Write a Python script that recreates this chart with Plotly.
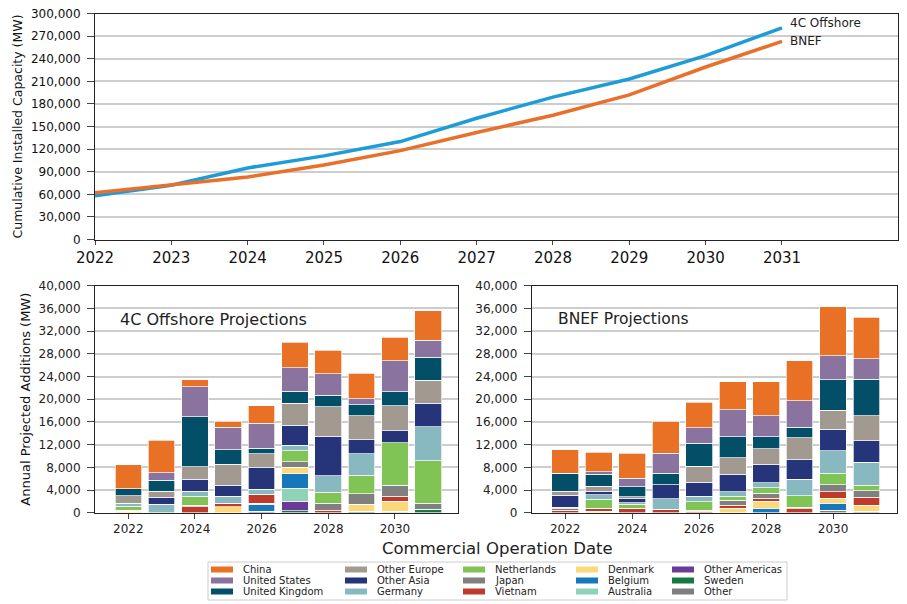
import plotly.graph_objects as go

# ---------------- data ----------------
years = [2022, 2023, 2024, 2025, 2026, 2027, 2028, 2029, 2030, 2031]

cum_4c = [58000, 72000, 95000, 111000, 130000, 161000, 189000, 213000, 244000, 281000]
cum_bnef = [62000, 72000, 83000, 99000, 118000, 142000, 165000, 192000, 229000, 263000]

countries = ["China", "United States", "United Kingdom", "Other Europe", "Other Asia",
             "Germany", "Netherlands", "Japan", "Vietnam", "Denmark",
             "Belgium", "Australia", "Other Americas", "Sweden", "Other"]

country_colors = ["#E87125", "#8B73A0", "#044F68", "#A29A90", "#26357A",
                  "#88B8C0", "#80C455", "#808080", "#C03A2B", "#FBD97B",
                  "#1677BD", "#8FD3B6", "#6A3A98", "#147A3F", "#7E7E7E"]

fourc_china = [4240, 5760, 1170, 1060, 3110, 4470, 4120, 4470, 4120, 5230]
fourc_us = [0, 1240, 5300, 4000, 4410, 4180, 3820, 1120, 5470, 2940]
fourc_uk = [1230, 2000, 8820, 2520, 940, 2110, 2060, 1940, 2470, 4120]
fourc_other_europe = [1350, 1000, 2230, 3710, 2530, 3880, 5170, 4170, 4350, 4000]
fourc_other_asia = [0, 1230, 2120, 1880, 3710, 3530, 6940, 2470, 2120, 4120]
fourc_germany = [470, 1530, 820, 1290, 880, 940, 2940, 3770, 0, 6060]
fourc_netherlands = [710, 0, 1590, 0, 0, 1940, 1940, 3290, 7470, 7470]
fourc_japan = [0, 0, 290, 0, 0, 940, 1180, 1880, 1940, 1000]
fourc_vietnam = [250, 0, 1060, 590, 1640, 0, 470, 0, 940, 0]
fourc_denmark = [220, 0, 0, 1060, 180, 1180, 0, 1180, 1760, 0]
fourc_belgium = [0, 0, 0, 0, 1180, 2590, 0, 0, 0, 0]
fourc_australia = [0, 0, 0, 0, 0, 2230, 0, 0, 235, 0]
fourc_other_americas = [0, 0, 0, 0, 290, 1700, 0, 0, 0, 0]
fourc_sweden = [0, 0, 0, 0, 0, 350, 0, 290, 0, 650]
fourc_other = [0, 0, 0, 0, 0, 0, 0, 0, 0, 0]

bnef_china = [4110, 3410, 4410, 5640, 4460, 5000, 6000, 7110, 8640, 7290]
bnef_us = [0, 470, 1470, 3530, 2770, 4760, 3760, 4650, 4290, 3590]
bnef_uk = [3180, 2060, 1770, 2000, 4060, 3650, 2120, 1820, 5350, 6410]
bnef_other_europe = [700, 940, 350, 0, 2760, 2880, 2700, 3940, 3350, 4470]
bnef_other_asia = [2060, 580, 710, 2470, 2470, 3120, 3240, 3410, 3760, 3760]
bnef_germany = [300, 830, 290, 1820, 1000, 820, 880, 2880, 4000, 4060]
bnef_netherlands = [0, 1530, 710, 0, 1470, 650, 1000, 2060, 2000, 940]
bnef_japan = [230, 0, 0, 0, 230, 880, 820, 240, 1290, 1180]
bnef_vietnam = [470, 590, 760, 650, 240, 590, 590, 700, 1060, 1410]
bnef_denmark = [0, 235, 0, 0, 0, 760, 1240, 0, 940, 1060]
bnef_belgium = [0, 0, 0, 0, 0, 0, 760, 0, 1180, 0]
bnef_australia = [0, 0, 0, 0, 0, 0, 0, 0, 0, 0]
bnef_other_americas = [0, 0, 0, 0, 0, 0, 0, 0, 0, 0]
bnef_sweden = [0, 0, 0, 0, 0, 0, 0, 0, 0, 0]
bnef_other = [0, 0, 0, 0, 0, 0, 0, 0, 470, 235]

fourc_series = [fourc_china, fourc_us, fourc_uk, fourc_other_europe, fourc_other_asia,
                fourc_germany, fourc_netherlands, fourc_japan, fourc_vietnam, fourc_denmark,
                fourc_belgium, fourc_australia, fourc_other_americas, fourc_sweden, fourc_other]
bnef_series = [bnef_china, bnef_us, bnef_uk, bnef_other_europe, bnef_other_asia,
               bnef_germany, bnef_netherlands, bnef_japan, bnef_vietnam, bnef_denmark,
               bnef_belgium, bnef_australia, bnef_other_americas, bnef_sweden, bnef_other]

# ---------------- layout helpers ----------------
# the page body has an 8px default margin, so the figure is placed at (8, 8)
OFF = 8
W, H = 907 - OFF, 604 - OFF


def px(x):
    return (x - OFF) / W


def py(y):
    return 1 - (y - OFF) / H


FONT = "DejaVu Sans"

fig = go.Figure()

# top line chart
fig.add_trace(go.Scatter(x=years, y=cum_4c, mode="lines", name="4C Offshore",
                         line=dict(color="#1E9CD7", width=3.5), showlegend=False,
                         xaxis="x", yaxis="y"))
fig.add_trace(go.Scatter(x=years, y=cum_bnef, mode="lines", name="BNEF",
                         line=dict(color="#E8702A", width=3.5), showlegend=False,
                         xaxis="x", yaxis="y"))

# stacked bars (bottom of stack = last in legend)
for i in reversed(range(len(countries))):
    fig.add_trace(go.Bar(x=years, y=fourc_series[i], name=countries[i],
                         marker=dict(color=country_colors[i], line=dict(color="white", width=0.7)),
                         width=0.8, xaxis="x2", yaxis="y2", showlegend=False))
    fig.add_trace(go.Bar(x=years, y=bnef_series[i], name=countries[i],
                         marker=dict(color=country_colors[i], line=dict(color="white", width=0.7)),
                         width=0.8, xaxis="x3", yaxis="y3", showlegend=False))

grid = "#cdcdcd"
axline = "#222222"

bottom_y = dict(range=[0, 40000], dtick=4000, tickformat=",d", showgrid=True,
                gridcolor=grid, gridwidth=1.5, showline=True, mirror=True,
                linecolor=axline, linewidth=1, ticks="outside", ticklen=7,
                ticklabelstandoff=4, ticklabeloverflow="allow",
                tickfont=dict(family=FONT, size=12, color="#222"), zeroline=False,
                domain=[py(512.7), py(285.7)], automargin=False)
bottom_x = dict(range=[2021, 2031.9], tickvals=[2022, 2024, 2026, 2028, 2030],
                ticks="outside", ticklen=5, showline=True, mirror=True,
                linecolor=axline, linewidth=1, showgrid=False, zeroline=False,
                tickfont=dict(family=FONT, size=12, color="#222"), automargin=False)

fig.update_layout(
    width=W, height=H, margin=dict(l=0, r=0, t=0, b=0, autoexpand=False),
    paper_bgcolor="white", plot_bgcolor="white",
    barmode="stack",
    font=dict(family=FONT, color="#222"),
    xaxis=dict(domain=[px(95), px(898)], range=[2022, 2032.52], tickvals=years,
               ticks="outside", ticklen=4, showline=True, mirror=True,
               linecolor=axline, linewidth=1, showgrid=False, zeroline=False,
               tickfont=dict(family=FONT, size=15, color="#111"), anchor="y",
               automargin=False),
    yaxis=dict(domain=[py(239.5), py(13.5)], range=[0, 300000], dtick=30000, tickformat=",d",
               showgrid=True, gridcolor=grid, gridwidth=2, showline=True, mirror=True,
               linecolor=axline, linewidth=1, ticks="outside", ticklen=7, zeroline=False,
               ticklabelstandoff=4, ticklabeloverflow="allow",
               tickfont=dict(family=FONT, size=12, color="#111"), anchor="x",
               automargin=False,
               title=dict(text="Cumulative Installed Capacity (MW)",
                          font=dict(family=FONT, size=12.5, color="#111"), standoff=5)),
    xaxis2=dict(bottom_x, domain=[px(95), px(458.3)], anchor="y2"),
    yaxis2=dict(bottom_y, anchor="x2",
                title=dict(text="Annual Projected Additions (MW)",
                           font=dict(family=FONT, size=13, color="#111"), standoff=5)),
    xaxis3=dict(bottom_x, domain=[px(531.7), px(896.7)], anchor="y3"),
    yaxis3=dict(bottom_y, anchor="x3"),
)

annotations = [
    dict(x=years[-1], y=cum_4c[-1], xref="x", yref="y", text="4C Offshore", showarrow=False,
         xanchor="left", yanchor="middle", xshift=6, yshift=5,
         font=dict(family=FONT, size=12, color="#222")),
    dict(x=years[-1], y=cum_bnef[-1], xref="x", yref="y", text="BNEF", showarrow=False,
         xanchor="left", yanchor="middle", xshift=6, yshift=0,
         font=dict(family=FONT, size=12, color="#222")),
    dict(x=px(118), y=py(319), xref="paper", yref="paper", text="4C Offshore Projections",
         showarrow=False, xanchor="left", yanchor="middle",
         font=dict(family=FONT, size=16, color="#222")),
    dict(x=px(556), y=py(319), xref="paper", yref="paper", text="BNEF Projections",
         showarrow=False, xanchor="left", yanchor="middle",
         font=dict(family=FONT, size=15.5, color="#222")),
    dict(x=px(497), y=py(548), xref="paper", yref="paper", text="Commercial Operation Date",
         showarrow=False, xanchor="center", yanchor="middle",
         font=dict(family=FONT, size=16.5, color="#222")),
]

# legend (5 columns x 3 rows, column-major)
shapes = [dict(type="rect", xref="paper", yref="paper", x0=px(208), x1=px(787),
               y0=py(600), y1=py(562), line=dict(color="#cccccc", width=1),
               fillcolor="white", layer="above")]
col_x = [211, 345, 463, 576, 672]
row_y = [569.5, 580.5, 591.5]
for i, (name, col) in enumerate(zip(countries, country_colors)):
    c, r = divmod(i, 3)
    sx, sy = col_x[c], row_y[r]
    shapes.append(dict(type="rect", xref="paper", yref="paper", x0=px(sx), x1=px(sx + 22),
                       y0=py(sy + 3), y1=py(sy - 3), fillcolor=col, line=dict(width=0),
                       layer="above"))
    annotations.append(dict(x=px(sx + 30), y=py(sy), xref="paper", yref="paper", text=name,
                            showarrow=False, xanchor="left", yanchor="middle",
                            font=dict(family=FONT, size=10, color="#222")))

fig.update_layout(annotations=annotations, shapes=shapes)

fig.write_html("out.html")
